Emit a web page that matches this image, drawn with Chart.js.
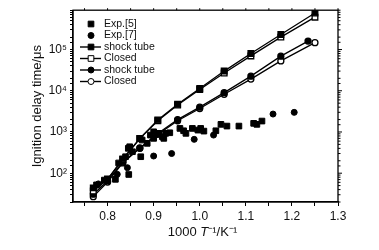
<!DOCTYPE html>
<html>
<head>
<meta charset="UTF-8">
<title>Ignition delay</title>
<script src="https://cdn.jsdelivr.net/npm/chart.js"></script>
<style>
  body { margin: 0; background: #fff; }
</style>
</head>
<body>
<canvas id="grafico" width="379" height="250"></canvas>
<script>
// 1000/T of the model runs (1300 K down to 800 K)
const invT = [0.769, 0.8, 0.833, 0.870, 0.909, 0.952, 1.0, 1.053, 1.111, 1.176, 1.25];
const invTShockCirc = [0.769, 0.8, 0.833, 0.870, 0.909, 0.952, 1.0, 1.053, 1.111, 1.176, 1.235];

// model delays, us
const shockSq  = [44, 72, 221, 700, 1950, 4700, 11300, 30000, 80000, 232000, 770000];
const closedSq = [37, 70, 215, 690, 1870, 4500, 10700, 27000, 70000, 200000, 610000];
const shockCirc  = [31, 65, 186, 410, 916, 2000, 4000, 9000, 22600, 69000, 160000];
const closedCirc = [27, 61, 177, 400, 875, 1870, 3700, 8200, 19200, 53000, 147000];

// experiments
const exp5X = [0.776, 0.793, 0.817, 0.846, 0.824, 0.839, 0.854, 0.848, 0.845, 0.872, 0.875, 0.886,
               0.893, 0.900, 0.900, 0.911, 0.919, 0.926, 0.922, 0.935, 0.957, 0.965, 0.970, 0.984,
               0.996, 1.002, 1.009, 1.035, 1.046, 1.059, 1.085, 1.117, 1.124, 1.135];
const exp5Y = [52, 68, 71, 93, 177, 251, 332, 438, 401, 251, 637, 530,
               841, 700, 1010, 926, 766, 926, 700, 957, 1220, 1070, 926, 1220,
               1110, 1220, 1050, 1070, 1530, 1390, 1390, 1620, 1530, 1840];
const exp7X = [0.780, 0.821, 0.843, 0.900, 0.939, 0.988, 1.030, 1.159, 1.205];
const exp7Y = [55, 94, 136, 261, 300, 662, 841, 2720, 2990];

const xTicks = [0.75, 0.8, 0.85, 0.9, 0.95, 1.0, 1.05, 1.1, 1.15, 1.2, 1.25, 1.3];
const sup = ['⁰', '¹', '²', '³', '⁴', '⁵', '⁶'];

const pts = (xs, ys) => xs.map((x, i) => ({ x: x, y: ys[i] }));
const FONT = 'Liberation Sans, Arial, sans-serif';

// frame, right/top ticks, legend and x title
const extras = {
  id: 'extras',
  afterDraw(chart) {
    const ctx = chart.ctx;
    const a = chart.chartArea;
    const ys = chart.scales.y;
    const xs = chart.scales.x;
    ctx.save();
    ctx.strokeStyle = '#000';
    ctx.lineWidth = 1.3;
    ctx.strokeRect(a.left, a.top, a.right - a.left, a.bottom - a.top);
    ctx.lineWidth = 1;
    ctx.beginPath();
    ys.ticks.forEach(t => {
      const y = ys.getPixelForValue(t.value);
      const major = t.label !== '';
      ctx.moveTo(a.right, y);
      ctx.lineTo(a.right + (major ? 4 : 2.5), y);
    });
    xs.ticks.forEach(t => {
      const x = xs.getPixelForValue(t.value);
      ctx.moveTo(x, a.top);
      ctx.lineTo(x, a.top - 2);
    });
    ctx.stroke();

    // legend
    ctx.font = '10.5px ' + FONT;
    ctx.textBaseline = 'middle';
    ctx.textAlign = 'left';
    const rows = [24, 35.5, 47, 58.5, 70, 81.5];
    chart.data.datasets.forEach((ds, i) => {
      const y = rows[i];
      if (ds.showLine) {
        ctx.strokeStyle = '#000';
        ctx.lineWidth = 1.4;
        ctx.beginPath();
        ctx.moveTo(80, y);
        ctx.lineTo(101, y);
        ctx.stroke();
      }
      ctx.fillStyle = ds.pointBackgroundColor;
      ctx.strokeStyle = '#000';
      ctx.lineWidth = 1;
      ctx.beginPath();
      if (ds.pointStyle === 'rect') {
        const s = ds.pointRadius * Math.SQRT1_2;
        ctx.rect(91 - s, y - s, 2 * s, 2 * s);
      } else {
        ctx.arc(91, y, ds.pointRadius, 0, Math.PI * 2);
      }
      ctx.fill();
      ctx.stroke();
      ctx.fillStyle = '#111';
      ctx.fillText(ds.label, 104, y);
    });

    // x title with italic T
    const p1 = '1000 ', p3 = '⁻¹/K⁻¹';
    ctx.font = 'italic 13px ' + FONT;
    const wT = ctx.measureText('T').width;
    ctx.font = '13px ' + FONT;
    const w1 = ctx.measureText(p1).width, w3 = ctx.measureText(p3).width;
    let x = (a.left + a.right) / 2 - 3 - (w1 + wT + w3) / 2;
    const ty = 232;
    ctx.fillStyle = '#111';
    ctx.fillText(p1, x, ty);
    x += w1;
    ctx.font = 'italic 13px ' + FONT;
    ctx.fillText('T', x, ty);
    x += wT;
    ctx.font = '13px ' + FONT;
    ctx.fillText(p3, x, ty);
    ctx.restore();
  }
};

new Chart(document.getElementById('grafico'), {
  type: 'scatter',
  data: {
    datasets: [
      { label: 'Exp.[5]', data: pts(exp5X, exp5Y), pointStyle: 'rect', pointRadius: 4,
        pointBackgroundColor: '#000', borderColor: '#000', showLine: false },
      { label: 'Exp.[7]', data: pts(exp7X, exp7Y), pointStyle: 'circle', pointRadius: 3,
        pointBackgroundColor: '#000', borderColor: '#000', showLine: false },
      { label: 'shock tube', data: pts(invT, shockSq), pointStyle: 'rect', pointRadius: 4,
        pointBackgroundColor: '#000', borderColor: '#000', borderWidth: 1.3, showLine: true },
      { label: 'Closed', data: pts(invT, closedSq), pointStyle: 'rect', pointRadius: 4,
        pointBackgroundColor: '#fff', borderColor: '#000', borderWidth: 1.3, showLine: true },
      { label: 'shock tube', data: pts(invTShockCirc, shockCirc), pointStyle: 'circle', pointRadius: 3,
        pointBackgroundColor: '#000', borderColor: '#000', borderWidth: 1.3, showLine: true },
      { label: 'Closed', data: pts(invT, closedCirc), pointStyle: 'circle', pointRadius: 3,
        pointBackgroundColor: '#fff', borderColor: '#000', borderWidth: 1.3, showLine: true }
    ]
  },
  options: {
    responsive: false,
    animation: false,
    layout: { padding: { left: 0, top: 10, right: 41, bottom: 0 } },
    plugins: { legend: { display: false }, tooltip: { enabled: false } },
    elements: { point: { borderWidth: 1 } },
    scales: {
      x: {
        type: 'linear',
        min: 0.725, max: 1.3,
        afterBuildTicks: s => { s.ticks = xTicks.map(v => ({ value: v })); },
        afterFit: s => { s.height = 48; },
        grid: { drawOnChartArea: false, tickLength: 4, color: '#000' },
        border: { color: '#000', width: 1.3 },
        ticks: {
          color: '#111', padding: 3, maxRotation: 0, autoSkip: false,
          font: { family: FONT, size: 12 },
          callback: v => (Math.round(v * 100) % 10 === 0 ? v.toFixed(1) : '')
        }
      },
      y: {
        type: 'logarithmic',
        min: 20, max: 900000,
        afterFit: s => { s.width = 73; },
        grid: { drawOnChartArea: false, tickLength: 3, color: '#000' },
        border: { color: '#000', width: 1.3 },
        title: { display: true, text: 'Ignition delay time/μs', color: '#111',
                 font: { family: FONT, size: 13 }, padding: { top: 30 } },
        ticks: {
          color: '#111', padding: 3, autoSkip: false,
          font: { family: FONT, size: 12 },
          callback: v => {
            const p = Math.log10(v);
            return Math.abs(p - Math.round(p)) < 1e-9 ? '10' + sup[Math.round(p)] : '';
          }
        }
      }
    }
  },
  plugins: [extras]
});
</script>
</body>
</html>
